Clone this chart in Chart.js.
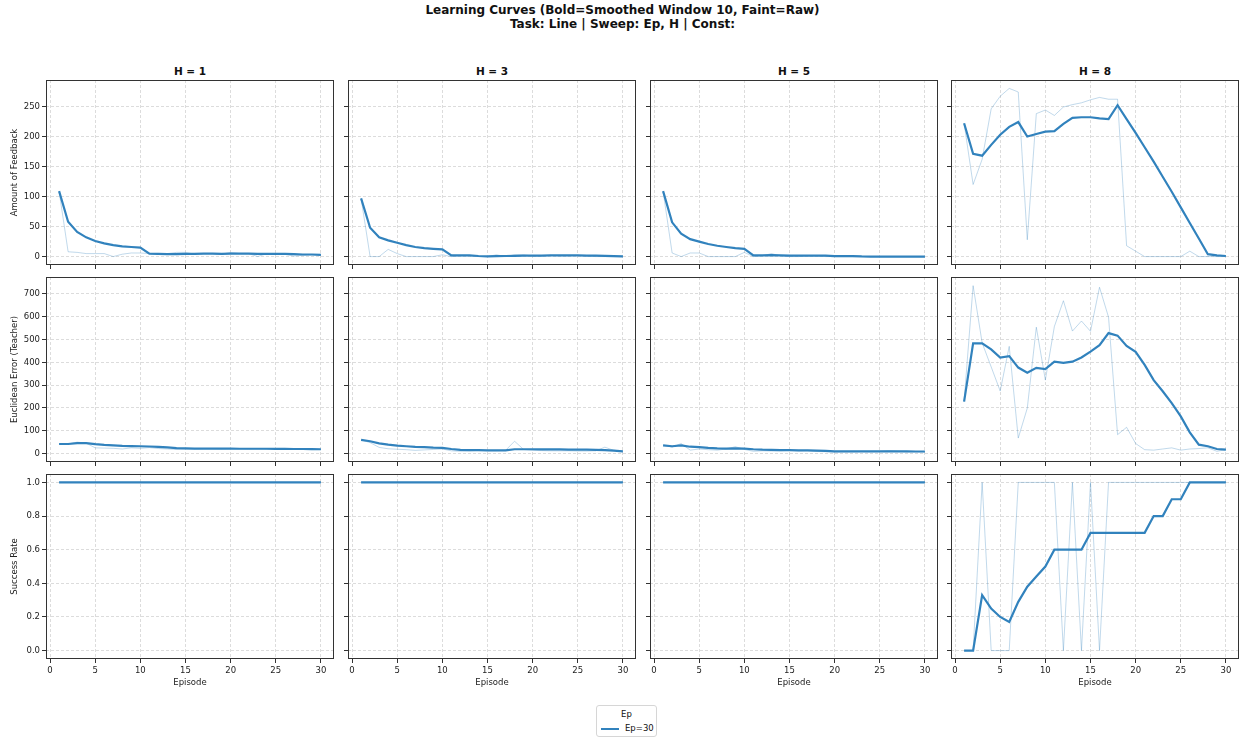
<!DOCTYPE html>
<html>
    <head>
        <title>Learning Curves</title>
        <script src="https://cdn.jsdelivr.net/npm/chart.js@4.4.1/dist/chart.umd.min.js"></script>
        <style>
            body { margin: 0; background: #fff; font-family: "DejaVu Sans", sans-serif; color: #111; }
            #fig { position: relative; width: 1245px; height: 740px; overflow: hidden; }
            canvas { position: absolute; }
            .txt { position: absolute; white-space: nowrap; }
            .suptitle { left: 0; width: 1245px; text-align: center; font-weight: bold; font-size: 12px; line-height: 13.5px; top: 4px; }
            .subtitle { text-align: center; font-weight: bold; font-size: 10.5px; }
            #legend { position: absolute; left: 596px; top: 705px; width: 59px; height: 30px; border: 1px solid #d6d6d6; border-radius: 3px; font-size: 8.5px; }
        </style>
        <script>
            // data
            const episodes = [1, 2, 3, 4, 5, 6, 7, 8, 9, 10, 11, 12, 13, 14, 15, 16, 17, 18, 19, 20, 21, 22, 23, 24, 25, 26, 27, 28, 29, 30];
            const horizons = ['H = 1', 'H = 3', 'H = 5', 'H = 8'];
            const rowLabels = ['Amount of Feedback', 'Euclidean Error (Teacher)', 'Success Rate'];
            const xTicks = [0, 5, 10, 15, 20, 25, 30];
            const yTicks = [
                [0, 50, 100, 150, 200, 250],
                [0, 100, 200, 300, 400, 500, 600, 700],
                [0, 0.2, 0.4, 0.6, 0.8, 1.0]
            ];
            const yLimits = [[-14, 294], [-37, 774], [-0.05, 1.05]];

            // feedback (row 1)
            const feedbackRawH1 = [109, 8, 7, 5, 5, 5, 0, 4, 6, 6, 5, 4, 5, 7, 7, 4, 5, 5, 4, 7, 5, 5, 0, 5, 5, 4, 1, 2, 3, 3];
            const feedbackSmoothH1 = [109, 58, 41, 32, 26, 22, 19, 17, 16, 15, 5, 4.5, 4, 4, 4.5, 4.5, 5, 5, 4.5, 5, 5, 5, 4.5, 4.5, 4.5, 4.5, 4, 3.5, 3.5, 3];
            const feedbackRawH3 = [97, 0, 0, 12, 5, 0, 0, 0, 0, 3, 0, 1, 1, 0, 0, 3, 0, 3, 3, 1, 1, 2, 1, 1, 2, 1, 0, 0, 0, 0];
            const feedbackSmoothH3 = [97, 48, 32, 27, 23, 19, 16, 14, 13, 12, 2, 2, 2, 1, 0.5, 0.8, 1, 1.3, 1.7, 1.7, 1.5, 2, 2, 2, 2, 1.7, 1.5, 1.2, 0.8, 0.5];
            const feedbackRawH5 = [109, 6, 0, 6, 6, 0, 0, 0, 0, 7, 0, 1, 5, 1, 0, 0, 1, 1, 0, 0, 0, 0, 0, 0, 0, 0, 0, 0, 0, 0];
            const feedbackSmoothH5 = [109, 57, 38, 29, 25, 21, 18, 16, 14, 13, 2, 2, 2.5, 2, 1.5, 1.5, 1.5, 1.5, 1.5, 0.8, 0.7, 0.7, 0.2, 0.1, 0, 0, 0, 0, 0, 0];
            const feedbackRawH8 = [222, 120, 162, 246, 267, 280, 274, 28, 238, 244, 235, 249, 253, 256, 261, 265, 262, 262, 18, 9, 0, 0, 0, 0, 0, 9, 0, 0, 0, 0];
            const feedbackSmoothH8 = [222, 171, 168, 186, 203, 216, 224, 200, 204, 208, 209, 221, 231, 232, 232, 230, 229, 252, 229, 206, 182, 158, 133, 108, 82, 56, 30, 4, 2, 1];

            // euclidean error (row 2)
            const errorRawH1 = [42, 42, 50, 46, 25, 24, 23, 20, 25, 23, 26, 22, 20, 18, 20, 21, 22, 22, 21, 22, 20, 19, 20, 19, 20, 19, 19, 18, 19, 18];
            const errorSmoothH1 = [42, 42, 46, 46, 41, 38, 36, 34, 33, 32, 31, 29, 27, 24, 23, 22, 22, 22, 22, 22, 21, 21, 21, 21, 20.5, 20.5, 20, 20, 19.5, 19];
            const errorRawH3 = [60, 48, 27, 21, 19, 17, 14, 16, 18, 20, 12, 10, 12, 14, 13, 13, 14, 54, 18, 14, 13, 12, 12, 12, 11, 11, 12, 28, 14, 10];
            const errorSmoothH3 = [60, 54, 45, 39, 35, 32, 29, 28, 26, 25, 20, 16, 15, 15, 14, 14, 14, 19, 19, 19, 18, 18, 18, 17, 17, 17, 16, 15, 13, 10];
            const errorRawH5 = [36, 28, 44, 15, 20, 17, 15, 20, 30, 18, 10, 12, 11, 12, 14, 12, 13, 9, 8, 7, 8, 8, 9, 8, 9, 13, 10, 8, 8, 7];
            const errorSmoothH5 = [36, 32, 36, 30, 28, 25, 23, 22, 23, 22, 19, 17, 16, 15, 15, 14, 14, 13, 12, 10, 10, 10, 10, 10, 9.5, 10, 10, 9.5, 9, 9];
            const errorRawH8 = [228, 736, 485, 380, 274, 470, 68, 199, 554, 322, 557, 670, 537, 581, 536, 729, 598, 83, 115, 44, 17, 15, 20, 25, 15, 20, 22, 25, 10, 17];
            const errorSmoothH8 = [228, 483, 483, 457, 421, 427, 377, 354, 376, 370, 403, 398, 403, 421, 447, 475, 528, 517, 472, 446, 389, 322, 273, 221, 163, 93, 39, 32, 20, 17];

            // success rate (row 3)
            const successRawH1 = [1, 1, 1, 1, 1, 1, 1, 1, 1, 1, 1, 1, 1, 1, 1, 1, 1, 1, 1, 1, 1, 1, 1, 1, 1, 1, 1, 1, 1, 1];
            const successSmoothH1 = [1, 1, 1, 1, 1, 1, 1, 1, 1, 1, 1, 1, 1, 1, 1, 1, 1, 1, 1, 1, 1, 1, 1, 1, 1, 1, 1, 1, 1, 1];
            const successRawH3 = [1, 1, 1, 1, 1, 1, 1, 1, 1, 1, 1, 1, 1, 1, 1, 1, 1, 1, 1, 1, 1, 1, 1, 1, 1, 1, 1, 1, 1, 1];
            const successSmoothH3 = [1, 1, 1, 1, 1, 1, 1, 1, 1, 1, 1, 1, 1, 1, 1, 1, 1, 1, 1, 1, 1, 1, 1, 1, 1, 1, 1, 1, 1, 1];
            const successRawH5 = [1, 1, 1, 1, 1, 1, 1, 1, 1, 1, 1, 1, 1, 1, 1, 1, 1, 1, 1, 1, 1, 1, 1, 1, 1, 1, 1, 1, 1, 1];
            const successSmoothH5 = [1, 1, 1, 1, 1, 1, 1, 1, 1, 1, 1, 1, 1, 1, 1, 1, 1, 1, 1, 1, 1, 1, 1, 1, 1, 1, 1, 1, 1, 1];
            const successRawH8 = [0, 0, 1, 0, 0, 0, 1, 1, 1, 1, 1, 0, 1, 0, 1, 0, 1, 1, 1, 1, 1, 1, 1, 1, 1, 1, 1, 1, 1, 1];
            const successSmoothH8 = [0, 0, 0.33, 0.25, 0.2, 0.17, 0.29, 0.38, 0.44, 0.5, 0.6, 0.6, 0.6, 0.6, 0.7, 0.7, 0.7, 0.7, 0.7, 0.7, 0.7, 0.8, 0.8, 0.9, 0.9, 1, 1, 1, 1, 1];

            const grid = [
                [[feedbackSmoothH1, feedbackRawH1], [feedbackSmoothH3, feedbackRawH3], [feedbackSmoothH5, feedbackRawH5], [feedbackSmoothH8, feedbackRawH8]],
                [[errorSmoothH1, errorRawH1], [errorSmoothH3, errorRawH3], [errorSmoothH5, errorRawH5], [errorSmoothH8, errorRawH8]],
                [[successSmoothH1, successRawH1], [successSmoothH3, successRawH3], [successSmoothH5, successRawH5], [successSmoothH8, successRawH8]]
            ];
        </script>
        <script>
            const colLeft = [46, 348, 650, 951];
            const rowTop = [80, 277, 474];
            const axW = 288;
            const axH = 185;
            const padTop = 10;
            const lineColor = '#3182bd';
            const faintColor = 'rgba(49, 130, 189, 0.3)';
            const font = 'DejaVu Sans';

            // matplotlib-like frame around each axes
            const framePlugin = {
                id: 'frame',
                afterDraw(chart) {
                    const a = chart.chartArea;
                    const ctx = chart.ctx;
                    ctx.save();
                    ctx.strokeStyle = '#333';
                    ctx.lineWidth = 1;
                    ctx.strokeRect(Math.round(a.left) + 0.5, Math.round(a.top) + 0.5, Math.round(a.right - a.left) - 1, Math.round(a.bottom - a.top) - 1);
                    ctx.restore();
                }
            };

            function makeChart(row, col)
            {
                const fig = document.getElementById('fig');
                const first = col === 0;
                const bottom = row === 2;
                const yw = first ? 46 : 6;
                const xh = bottom ? 30 : 10;
                const canvas = document.createElement('canvas');
                canvas.width = yw + axW + 12;
                canvas.height = padTop + axH + xh;
                canvas.style.left = (colLeft[col] - yw) + 'px';
                canvas.style.top = (rowTop[row] - padTop) + 'px';
                fig.appendChild(canvas);

                const [smooth, raw] = grid[row][col];
                const toPoints = arr => arr.map((v, i) => ({ x: episodes[i], y: v }));

                new Chart(canvas, {
                    type: 'line',
                    data: {
                        datasets: [{
                            label: 'Ep=30',
                            data: toPoints(smooth),
                            borderColor: lineColor,
                            borderWidth: 2.2,
                            pointRadius: 0,
                            tension: 0
                        }, {
                            label: 'raw',
                            data: toPoints(raw),
                            borderColor: faintColor,
                            borderWidth: 1,
                            pointRadius: 0,
                            tension: 0
                        }]
                    },
                    options: {
                        responsive: false,
                        animation: false,
                        events: [],
                        layout: { padding: { top: padTop, right: 12, left: 0, bottom: 0 } },
                        plugins: { legend: { display: false }, tooltip: { enabled: false } },
                        scales: {
                            x: {
                                type: 'linear',
                                min: -0.45,
                                max: 31.45,
                                afterBuildTicks: s => { s.ticks = xTicks.map(v => ({ value: v })); },
                                afterFit: s => { s.height = xh; },
                                grid: { color: '#dcdcdc', tickColor: '#333', tickLength: 4, tickBorderDash: [] },
                                border: { display: false, dash: [3, 2] },
                                ticks: { display: bottom, padding: 3, color: '#222', font: { family: font, size: 8.5 }, maxRotation: 0 },
                                title: { display: bottom, text: 'Episode', color: '#222', padding: { top: 0, bottom: 1 }, font: { family: font, size: 8.5 } }
                            },
                            y: {
                                type: 'linear',
                                min: yLimits[row][0],
                                max: yLimits[row][1],
                                afterBuildTicks: s => { s.ticks = yTicks[row].map(v => ({ value: v })); },
                                afterFit: s => { s.width = yw; },
                                grid: { color: '#dcdcdc', tickColor: '#333', tickLength: 4, tickBorderDash: [] },
                                border: { display: false, dash: [3, 2] },
                                ticks: {
                                    display: first,
                                    padding: 2,
                                    color: '#222',
                                    font: { family: font, size: 8.5 },
                                    callback: v => row === 2 ? v.toFixed(1) : String(v)
                                },
                                title: { display: first, text: rowLabels[row], color: '#222', padding: { top: 10, bottom: 0 }, font: { family: font, size: 8.5 } }
                            }
                        }
                    },
                    plugins: [framePlugin]
                });
            }

            function loaded()
            {
                const fig = document.getElementById('fig');
                for(let c = 0; c < 4; c++)
                {
                    const t = document.createElement('div');
                    t.className = 'txt subtitle';
                    t.style.left = colLeft[c] + 'px';
                    t.style.width = axW + 'px';
                    t.style.top = (rowTop[0] - 15) + 'px';
                    t.textContent = horizons[c];
                    fig.appendChild(t);
                }
                for(let r = 0; r < 3; r++)
                    for(let c = 0; c < 4; c++)
                        makeChart(r, c);
            }

            window.addEventListener('load', loaded, true);
        </script>
    </head>
    <body>
        <div id="fig">
            <div class="txt suptitle">Learning Curves (Bold=Smoothed Window 10, Faint=Raw)<br>Task: Line | Sweep: Ep, H | Const:</div>
            <div id="legend">
                <div class="txt" style="left:0; width:59px; text-align:center; top:3px;">Ep</div>
                <div style="position:absolute; left:4px; top:22px; width:18px; height:2px; background:#3182bd;"></div>
                <div class="txt" style="left:28px; top:17px;">Ep=30</div>
            </div>
        </div>
    </body>
</html>
